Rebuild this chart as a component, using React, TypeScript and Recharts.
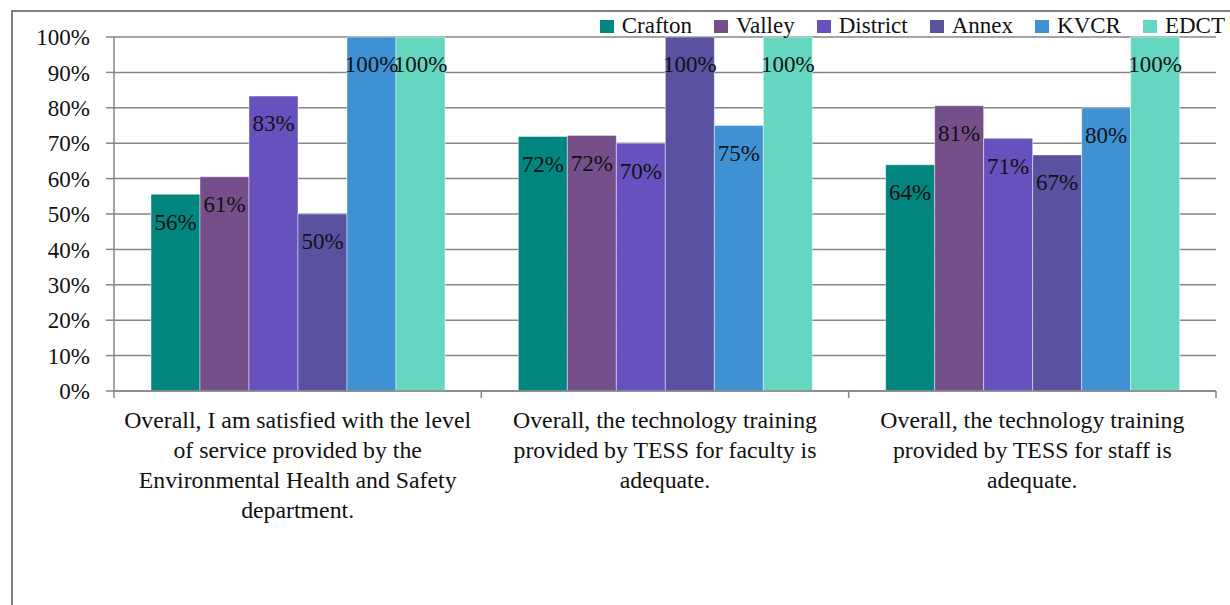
import { Bar, BarChart, CartesianGrid, LabelList, XAxis, YAxis } from "recharts";

const categories = [
  "Overall, I am satisfied with the level\nof service provided by the\nEnvironmental Health and Safety\ndepartment.",
  "Overall, the technology training\nprovided by TESS for faculty is\nadequate.",
  "Overall, the technology training\nprovided by TESS for staff is\nadequate."
];

const seriesNames = ["Crafton", "Valley", "District", "Annex", "KVCR", "EDCT"];
const seriesColors = ["#00857f", "#744f8a", "#6751bf", "#5a51a1", "#3e92d4", "#65d6bf"];

const crafton = [55.6, 71.9, 63.9];
const valley = [60.5, 72.2, 80.6];
const district = [83.3, 70.0, 71.4];
const annex = [50.0, 100, 66.7];
const kvcr = [100, 75.0, 80.0];
const edct = [100, 100, 100];

const yTicks = [0, 10, 20, 30, 40, 50, 60, 70, 80, 90, 100];

const seriesValues = [crafton, valley, district, annex, kvcr, edct];
const data = categories.map((name, i) => {
  const row: Record<string, string | number> = { name };
  seriesNames.forEach((s, j) => {
    row[s] = seriesValues[j][i];
  });
  return row;
});

const FONT = "'Liberation Serif', 'Times New Roman', serif";
const GRAY = "#868686";

function CategoryTick(props: any) {
  const { x, y, payload, index } = props;
  const half = payload.offset ?? 0;
  const lines = String(payload.value).split("\n");
  return (
    <g>
      <line x1={x - half} x2={x - half} y1={y} y2={y + 7} stroke={GRAY} strokeWidth={1.5} />
      {index === categories.length - 1 && (
        <line x1={x + half} x2={x + half} y1={y} y2={y + 7} stroke={GRAY} strokeWidth={1.5} />
      )}
      <text x={x} y={y + 37} textAnchor="middle" fontFamily={FONT} fontSize={23.8} fill="#111">
        {lines.map((line, i) => (
          <tspan key={i} x={x} dy={i === 0 ? 0 : 30}>
            {line}
          </tspan>
        ))}
      </text>
    </g>
  );
}

export default function App() {
  return (
    <div
      style={{
        position: "absolute",
        left: 0,
        top: 0,
        width: 1230,
        height: 605,
        overflow: "hidden",
        background: "#fff"
      }}
    >
      <div
        style={{
          position: "absolute",
          left: 11,
          top: 10,
          width: 1400,
          height: 800,
          borderLeft: "2px solid #808080",
          borderTop: "2px solid #808080"
        }}
      />
      <div style={{ position: "absolute", left: 0, top: 0 }}>
        <BarChart
          width={1230}
          height={605}
          data={data}
          margin={{ top: 37, right: 14, left: 0, bottom: 0 }}
          barCategoryGap={37}
          barGap={0}
        >
          <CartesianGrid vertical={false} stroke={GRAY} strokeWidth={1.5} />
          <XAxis
            dataKey="name"
            height={214}
            interval={0}
            tickSize={0}
            tickMargin={0}
            tickLine={false}
            axisLine={{ stroke: GRAY, strokeWidth: 1.5 }}
            tick={<CategoryTick />}
          />
          <YAxis
            width={114}
            domain={[0, 100]}
            ticks={yTicks}
            interval={0}
            tickSize={8}
            tickMargin={16}
            tickFormatter={(v) => `${v}%`}
            tick={{ fontFamily: FONT, fontSize: 23, fill: "#111" }}
            tickLine={{ stroke: GRAY, strokeWidth: 1.5 }}
            axisLine={{ stroke: GRAY, strokeWidth: 1.5 }}
          />
          {seriesNames.map((s, i) => (
            <Bar
              key={s}
              dataKey={s}
              fill={seriesColors[i]}
              stroke="rgba(255,255,255,0.45)"
              strokeWidth={1}
              isAnimationActive={false}
            >
              <LabelList
                dataKey={s}
                position="insideTop"
                offset={19}
                formatter={(v: any) => `${Math.round(Number(v))}%`}
                style={{ fontFamily: FONT, fontSize: 23, fill: "#111" }}
              />
            </Bar>
          ))}
        </BarChart>
      </div>
      <div
        style={{
          position: "absolute",
          top: 13,
          right: 5,
          display: "flex",
          alignItems: "baseline",
          fontFamily: FONT,
          fontSize: 23,
          lineHeight: "26px",
          color: "#111"
        }}
      >
        {seriesNames.map((s, i) => (
          <span key={s} style={{ marginLeft: i === 0 ? 0 : 22, whiteSpace: "nowrap" }}>
            <span
              style={{
                display: "inline-block",
                width: 14,
                height: 13,
                marginRight: 8,
                background: seriesColors[i]
              }}
            />
            {s}
          </span>
        ))}
      </div>
    </div>
  );
}
